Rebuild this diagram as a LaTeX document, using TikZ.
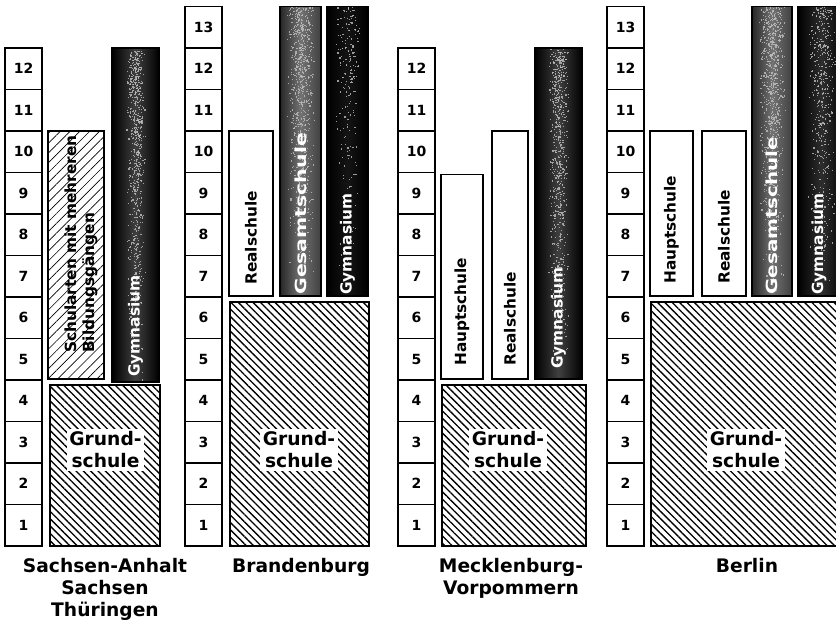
\documentclass[tikz,border=0pt]{standalone}
\usepackage{fontspec}
\setmainfont{DejaVu Sans}
\usetikzlibrary{patterns.meta}

\newcommand{\gh}{41.5}
% Klassenspalte: #1 Name, #2 Anzahl Klassen
\newcommand{\spalte}[2]{%
  \foreach \k in {1,...,#2} {
    \draw[zelle] (0,{(\k-1)*\gh}) rectangle (37,{\k*\gh});
    \node[ziffer] (#1\k) at (18.5,{(\k-0.5)*\gh}) {\k};
  }%
}
% Koernung: #1,#2 unten links, #3,#4 oben rechts, #5 Anzahl, #6 Breite der Streuung
\newcommand{\koernung}[6]{%
  \begin{scope}
  \clip (#1,#2) rectangle (#3,#4);
  \foreach \i in {1,...,#5} {
    \pgfmathsetmacro{\px}{#1+(#3-#1)*(0.5+#6*(rnd+rnd-1))}
    \pgfmathsetmacro{\py}{#2+(#4-#2)*sqrt(rnd)}
    \fill[korn] (\px,\py) rectangle ++(1.2,1.2);
  }
  \end{scope}
  \draw[line width=1.1pt] (#1,#2) rectangle (#3,#4);
}

\begin{document}
\begin{tikzpicture}[x=0.75pt,y=0.75pt,
  zelle/.style={draw, line width=1.1pt, fill=white},
  ziffer/.style={font=\fontsize{10.5}{12}\selectfont\bfseries},
  grundschule/.style={draw, line width=1.1pt, pattern={Lines[angle=-45,distance=3.9pt,line width=1pt]}},
  mehrere/.style={draw, line width=1.1pt, pattern={Lines[angle=45,distance=5.2pt,line width=0.5pt]}},
  hell/.style={draw, line width=1.1pt, fill=white},
  gym/.style={left color=black, right color=black, middle color=#1},
  gym/.default=black!75,
  gesamt/.style={left color=black!85, right color=black!75, middle color=black!55},
  korn/.style={fill=black!25, opacity=0.8},
  senkrecht/.style={rotate=90, anchor=west, inner sep=0pt, font=\fontsize{11.5}{13.5}\selectfont\bfseries},
  weiss/.style={text=white},
  grundtext/.style={fill=white, inner sep=2pt, align=center, font=\fontsize{14}{16.5}\selectfont\bfseries},
  land/.style={anchor=north, inner sep=0pt, align=center, font=\fontsize{14}{16.5}\selectfont\bfseries}
]
\useasboundingbox (0,-77) rectangle (836,546);
\clip (0,-77) rectangle (836,546);
\pgfmathsetseed{4711}

% Sachsen-Anhalt / Sachsen / Thueringen
\begin{scope}[shift={(5,0)}]
\spalte{sa}{12}
\draw[grundschule] (45,0) rectangle (155,4*\gh-5);
\node[grundtext] (sa-gs) at (100.5,96) {Grund-\\schule};
\draw[mehrere] (43,4*\gh+1) rectangle (99,10*\gh);
\node[senkrecht, align=left] (sa-mb) at (76,4*\gh+27) {Schularten mit mehreren\\Bildungsgängen};
\fill[gym] (107,4*\gh-2) rectangle (154,12*\gh);
\koernung{107}{4*\gh-2}{154}{12*\gh}{650}{0.2}
\node[senkrecht, weiss] (sa-gy) at (130.5,4*\gh+3) {Gymnasium};
\node[land] (sa-name) at (100,-12) {Sachsen-Anhalt\\Sachsen\\Thüringen};
\end{scope}

% Brandenburg
\begin{scope}[shift={(185,0)}]
\spalte{bb}{13}
\draw[grundschule] (45,0) rectangle (184,6*\gh-5);
\node[grundtext] (bb-gs) at (114,96) {Grund-\\schule};
\draw[hell] (44,6*\gh+1) rectangle (88,10*\gh);
\node[senkrecht] (bb-rs) at (66,6*\gh+12) {Realschule};
\fill[gesamt] (95,6*\gh+1) rectangle (136,13*\gh);
\koernung{95}{6*\gh+1}{136}{13*\gh}{700}{0.35}
\node[senkrecht, weiss] (bb-ge) at (116,6*\gh+2) {\scalebox{1.33}[1]{Gesamtschule}};
\fill[gym=black!92] (142,6*\gh+1) rectangle (183,13*\gh);
\koernung{142}{6*\gh+1}{183}{13*\gh}{220}{0.3}
\node[senkrecht, weiss] (bb-gy) at (162.5,6*\gh+2) {Gymnasium};
\node[land] (bb-name) at (116,-12) {Brandenburg};
\end{scope}

% Mecklenburg-Vorpommern
\begin{scope}[shift={(398,0)}]
\spalte{mv}{12}
\draw[grundschule] (44,0) rectangle (188,4*\gh-5);
\node[grundtext] (mv-gs) at (110,96) {Grund-\\schule};
\draw[hell] (43,4*\gh+1) rectangle (85,9*\gh-2);
\node[senkrecht] (mv-hs) at (64,4*\gh+14) {Hauptschule};
\draw[hell] (94,4*\gh+1) rectangle (130,10*\gh);
\node[senkrecht] (mv-rs) at (112,4*\gh+14) {Realschule};
\fill[gym] (137,4*\gh+1) rectangle (184,12*\gh);
\koernung{137}{4*\gh+1}{184}{12*\gh}{650}{0.22}
\node[senkrecht, weiss] (mv-gy) at (160.5,4*\gh+11) {Gymnasium};
\node[land] (mv-name) at (113,-12) {Mecklenburg-\\Vorpommern};
\end{scope}

% Berlin
\begin{scope}[shift={(607,0)}]
\spalte{be}{13}
\draw[grundschule] (44,0) rectangle (236,6*\gh-5);
\node[grundtext] (be-gs) at (139,96) {Grund-\\schule};
\draw[hell] (43,6*\gh+1) rectangle (86,10*\gh);
\node[senkrecht] (be-hs) at (64.5,6*\gh+13) {Hauptschule};
\draw[hell] (95,6*\gh+1) rectangle (139,10*\gh);
\node[senkrecht] (be-rs) at (117,6*\gh+13) {Realschule};
\fill[gesamt] (145,6*\gh+1) rectangle (185,13*\gh);
\koernung{145}{6*\gh+1}{185}{13*\gh}{700}{0.35}
\node[senkrecht, weiss] (be-ge) at (165,6*\gh+2) {\scalebox{1.3}[1]{Gesamtschule}};
\fill[gym=black!82] (191,6*\gh+1) rectangle (238,13*\gh);
\koernung{191}{6*\gh+1}{238}{13*\gh}{450}{0.3}
\node[senkrecht, weiss] (be-gy) at (212,6*\gh+2) {Gymnasium};
\node[land] (be-name) at (140,-12) {Berlin};
\end{scope}
\end{tikzpicture}
\end{document}
